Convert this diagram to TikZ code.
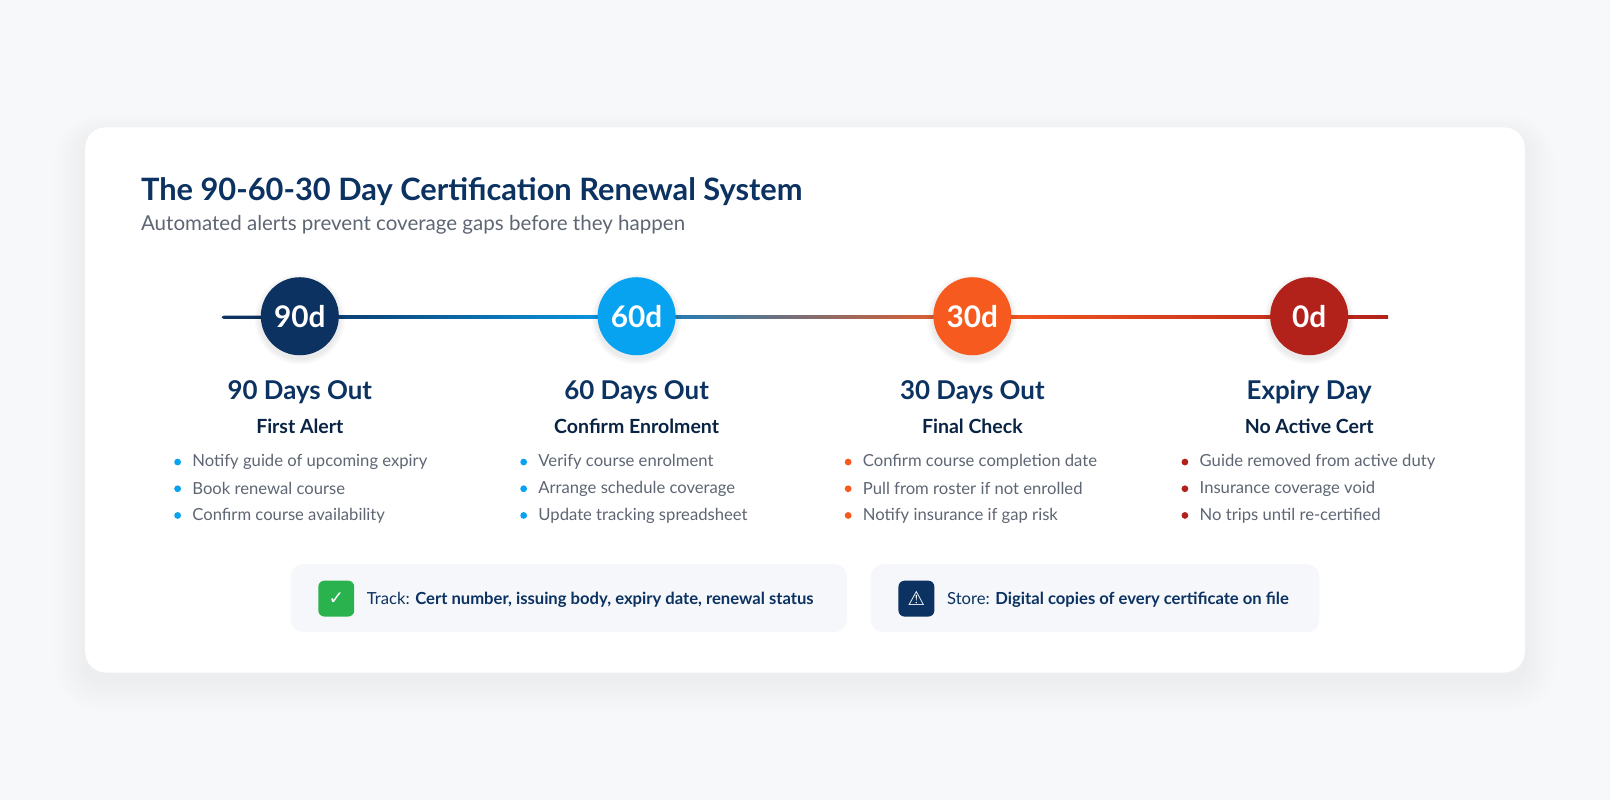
\documentclass[tikz,border=0pt]{standalone}
\usepackage{fontspec}
\setmainfont{Lato}
\definecolor{bg}{HTML}{F7F8FA}
\definecolor{navy}{HTML}{0B3261}
\definecolor{sky}{HTML}{08A3F0}
\definecolor{orng}{HTML}{F65A1E}
\definecolor{crim}{HTML}{B2221B}
\definecolor{grey}{HTML}{5E6673}
\definecolor{boxbg}{HTML}{F5F7FA}
\definecolor{grn}{HTML}{2AB24F}
\begin{document}
\begin{tikzpicture}[x=0.5pt,y=-0.5pt,
  circ/.style={circle,minimum size=38pt,inner sep=0pt,text=white,font=\fontsize{14.5}{15}\bfseries\selectfont},
  head/.style={text=navy,font=\fontsize{12.6}{14}\bfseries\selectfont},
  sub/.style={text=navy!70!black,font=\fontsize{9.5}{11}\bfseries\selectfont},
  item/.style={anchor=west,text=grey,font=\fontsize{8.1}{9}\selectfont,inner sep=0pt},
  dot/.style={circle,inner sep=0pt,minimum size=3.3pt},
  note/.style={anchor=west,text=navy,font=\fontsize{8.1}{9}\selectfont,inner sep=0pt},
  icon/.style={rounded corners=3pt,minimum size=17.5pt,inner sep=0pt,text=white}]
\fill[bg] (0,0) rectangle (1568,779);
\useasboundingbox (0,0) rectangle (1568,779);
\foreach \k in {1,...,10}{
  \fill[black,opacity=0.0035,rounded corners={10pt+\k*1.2pt}] (83-\k*3,124-\k*2+8) rectangle (1485+\k*3,655+\k*3+8);
}
\node[fill=white,rounded corners=10pt,minimum width=701pt,minimum height=265.5pt,inner sep=0pt] (card) at (784,389.5) {};
\node[anchor=west,text=navy,font=\fontsize{15}{17}\bfseries\selectfont,inner sep=0pt] (title) at (137,187) {The 90-60-30 Day Certification Renewal System};
\node[anchor=west,text=grey,font=\fontsize{10}{11}\selectfont,inner sep=0pt] (subt) at (137,219) {Automated alerts prevent coverage gaps before they happen};
% line
\fill[navy,rounded corners=1pt] (216,307.5) rectangle (295,310.5);
\shade[left color=navy,right color=sky] (292,307.5) rectangle (620,310.5);
\shade[left color=sky!70!navy,right color=orng] (620,307.5) rectangle (947,310.5);
\shade[left color=orng,right color=crim] (947,307.5) rectangle (1352,310.5);
\foreach \x in {292,620,947,1275}{
  \foreach \k in {1,...,5}{\fill[black,opacity=0.015] (\x,311) circle ({38+\k*1.2});}
}
\node[circ,fill=navy] (c1) at (292,308) {90d};
\node[circ,fill=sky] (c2) at (620,308) {60d};
\node[circ,fill=orng] (c3) at (947,308) {30d};
\node[circ,fill=crim] (c4) at (1275,308) {0d};
\foreach \x/\h/\s/\col/\bx/\a/\b/\c [count=\i] in {
  292/90 Days Out/First Alert/sky/173/Notify guide of upcoming expiry/Book renewal course/Confirm course availability,
  620/60 Days Out/Confirm Enrolment/sky/510/Verify course enrolment/Arrange schedule coverage/Update tracking spreadsheet,
  947/30 Days Out/Final Check/orng/826/Confirm course completion date/Pull from roster if not enrolled/Notify insurance if gap risk,
  1275/Expiry Day/No Active Cert/crim/1154/Guide removed from active duty/Insurance coverage void/No trips until re-certified}{
  \node[head] (h\i) at (\x,382) {\h};
  \node[sub] (s\i) at (\x,415) {\s};
  \node[dot,fill=\col] (da\i) at (\bx,450) {};
  \node[dot,fill=\col] (db\i) at (\bx,476) {};
  \node[dot,fill=\col] (dc\i) at (\bx,502) {};
  \node[item] (ia\i) at (\bx+14,450) {\a};
  \node[item] (ib\i) at (\bx+14,476) {\b};
  \node[item] (ic\i) at (\bx+14,502) {\c};
}
\node[fill=boxbg,rounded corners=6pt,minimum width=271pt,minimum height=33pt,inner sep=0pt] (b1) at (554,582.5) {};
\node[fill=boxbg,rounded corners=6pt,minimum width=218.5pt,minimum height=33pt,inner sep=0pt] (b2) at (1066.5,582.5) {};
\node[icon,fill=grn,font=\fontsize{9}{10}\selectfont] (i1) at (327.5,583) {\fontspec{DejaVu Sans}✓};
\node[icon,fill=navy,font=\fontsize{9.5}{10}\selectfont] (i2) at (892.5,583) {\fontspec{DejaVu Sans}⚠};
\node[note] (t1) at (357,584) {Track: \textbf{Cert number, issuing body, expiry date, renewal status}};
\node[note] (t2) at (922,584) {Store: \textbf{Digital copies of every certificate on file}};
\end{tikzpicture}
\end{document}
